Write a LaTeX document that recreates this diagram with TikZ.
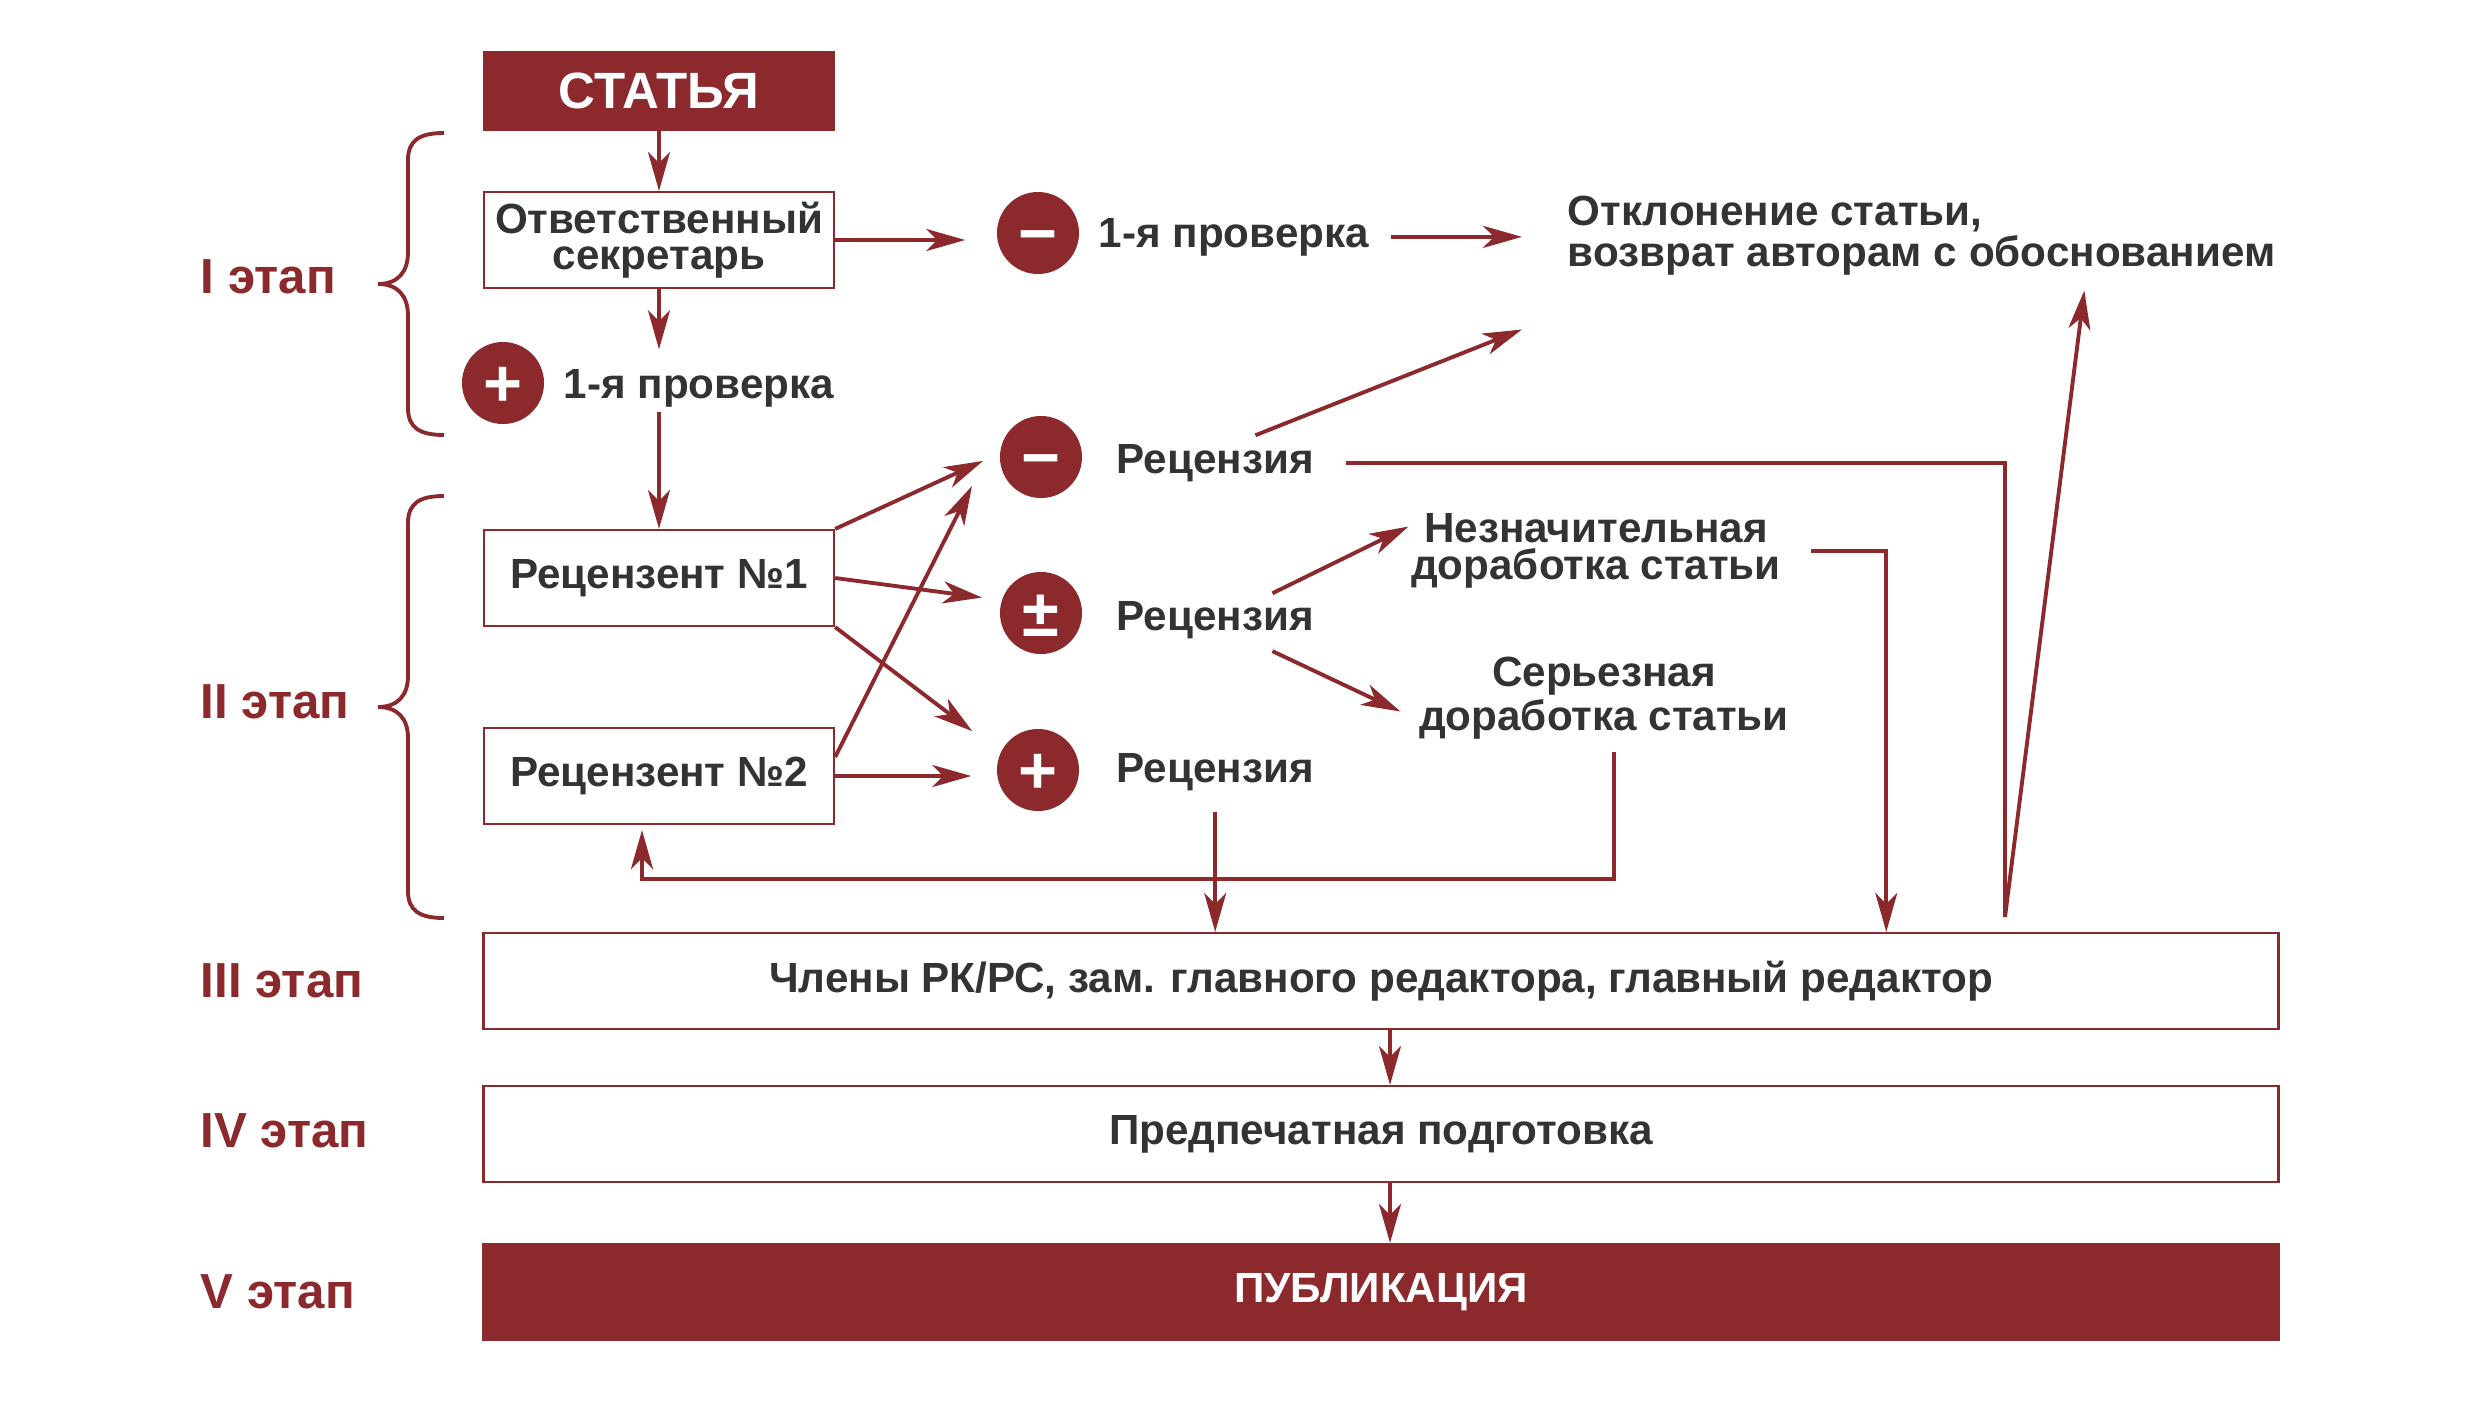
\documentclass[tikz,border=0pt]{standalone}
\usepackage{fontspec}
\setmainfont{Liberation Sans}
\usepackage{xcolor}
\usepackage{tikz}
\usetikzlibrary{arrows.meta}

\definecolor{brick}{RGB}{140,41,44}
\definecolor{ink}{RGB}{51,51,51}

\tikzset{
	box/.style={draw=brick,line width=0.6pt,minimum width=3.5cm,minimum height=0.96cm,inner sep=0pt,text=ink,align=center,font=\bfseries\fontsize{12}{10.4}\selectfont},
	wide/.style={box,minimum width=17.94cm},
	filled/.style={fill=brick,text=white},
	sign/.style={circle,fill=brick,minimum size=0.82cm,inner sep=0pt,text=white,text height=13.3pt,text depth=0pt,font=\bfseries\fontsize{19}{19}\selectfont},
	txt/.style={inner sep=0.02cm,text=ink,font=\bfseries\fontsize{12}{10.4}\selectfont},
	stage/.style={anchor=base west,inner sep=0pt,text=brick,font=\bfseries\fontsize{14}{14}\selectfont},
	link/.style={color=brick,line width=1.1pt},
	brc/.style={draw=brick,line width=1.1pt},
}

\begin{document}
\begin{tikzpicture}[x=0.01cm,y=-0.01cm,>={Stealth[length=0.39cm,width=0.22cm,inset=0.11cm]}]
	\useasboundingbox (0,0) rectangle (2480,1417);
	%
	\node[box,filled,minimum height=0.78cm,font=\bfseries\fontsize{14.5}{14.5}\selectfont] (art) at (659,91) {СТАТЬЯ};
	\node[box] (sec) at (659,240) {Ответственный\\секретарь};
	\node[box] (rev1) at (659,578) {Рецензент №1};
	\node[box] (rev2) at (659,776) {Рецензент №2};
	\node[wide] (edit) at (1381,981) {Члены РК/РС, зам. главного редактора, главный редактор};
	\node[wide] (prep) at (1381,1134) {Предпечатная подготовка};
	\node[wide,filled] (pub) at (1381,1292) {ПУБЛИКАЦИЯ};
	%
	\node[sign] (chkno) at (1038,233) {−};
	\node[sign] (chkyes) at (503,383) {+};
	\node[sign] (revno) at (1041,457) {−};
	\node[sign] (revfix) at (1041,613) {±};
	\node[sign] (revyes) at (1038,770) {+};
	%
	\node[txt,anchor=base west] (chknot) at (1096,247) {1-я проверка};
	\node[txt,anchor=base west] (chkyest) at (561,398) {1-я проверка};
	\node[txt,anchor=base west,align=left] (rej) at (1565,266) {Отклонение статьи,\\возврат авторам с обоснованием};
	\node[txt,anchor=base west] (revnot) at (1114,473) {Рецензия};
	\node[txt,anchor=base west] (revfixt) at (1114,630) {Рецензия};
	\node[txt,anchor=base west] (revyest) at (1114,782) {Рецензия};
	\node[txt,anchor=base,align=center] (minor) at (1596,579) {Незначительная\\доработка статьи};
	\node[txt,anchor=base,align=center] (major) at (1604,730) {Серьезная\\доработка статьи};
	%
	\node[stage] (st1) at (200,293) {I этап};
	\node[stage] (st2) at (200,718) {II этап};
	\node[stage] (st3) at (200,997) {III этап};
	\node[stage] (st4) at (200,1147) {IV этап};
	\node[stage] (st5) at (200,1308) {V этап};
	%
	\coordinate (turn) at (2005,917);
	%
	\path[link,->]
	(art) edge (sec)
	(sec.east) edge[shorten >=0.31cm] (sec.east -| chkno.west)
	(chknot.east) edge[shorten <=0.19cm,shorten >=0.43cm] (chknot.east -| rej.west)
	(sec.south) edge[shorten >=0.17cm] (sec.south |- chkyest.north)
	(chkyest.south -| rev1.north) edge[shorten <=0.03cm] (rev1.north)
	(rev1.north east) edge[shorten >=0.18cm] (revno.175)
	(rev1.east) edge[shorten >=0.195cm] (revfix.162)
	(rev1.south east) edge[shorten >=0.35cm] (revyes.155)
	([yshift=0.19cm]rev2.east) edge ([xshift=-0.69cm,yshift=-0.29cm]revno.center)
	(rev2.east) edge[shorten >=0.25cm] (rev2.east -| revyes.west)
	([xshift=-0.61cm,yshift=0.06cm]revnot.north east) edge ([xshift=-0.43cm,yshift=-0.52cm]rej.south west)
	([xshift=-0.44cm,yshift=0.05cm]revfixt.north east) edge ([yshift=0.24cm]minor.west)
	([xshift=-0.44cm,yshift=-0.1cm]revfixt.south east) edge ([xshift=-0.16cm,yshift=-0.135cm]major.west)
	(revyest.south) edge[shorten <=0.19cm] (revyest.south |- edit.north)
	(turn) edge ([xshift=5.19cm,yshift=-0.13cm]rej.south west)
	([xshift=0.09cm]edit.south) edge ([xshift=0.09cm]prep.north)
	([xshift=0.09cm]prep.south) edge ([xshift=0.09cm]pub.north);
	%
	\draw[link,shorten <=0.3cm] (revnot.east) -- (revnot.east -| turn) -- (turn);
	\draw[link,->,shorten <=0.27cm] (minor.east) -| ([xshift=5.05cm]edit.north);
	\draw[link,->,shorten <=0.11cm,shorten >=0.05cm] ([xshift=0.1cm]major.south) |- ([xshift=-0.17cm,yshift=-0.54cm]rev2.south) -- ([xshift=-0.17cm]rev2.south);
	%
	\draw[brc] (444,133) .. controls (420,133) and (408,140) .. (408,160) -- (408,252) .. controls (408,272) and (398,284) .. (378,284) .. controls (398,284) and (408,296) .. (408,316) -- (408,408) .. controls (408,428) and (420,435) .. (444,435);
	\draw[brc] (444,496) .. controls (420,496) and (408,503) .. (408,523) -- (408,676) .. controls (408,695) and (398,707) .. (378,707) .. controls (398,707) and (408,719) .. (408,738) -- (408,891) .. controls (408,911) and (420,918) .. (444,918);
\end{tikzpicture}
\end{document}
